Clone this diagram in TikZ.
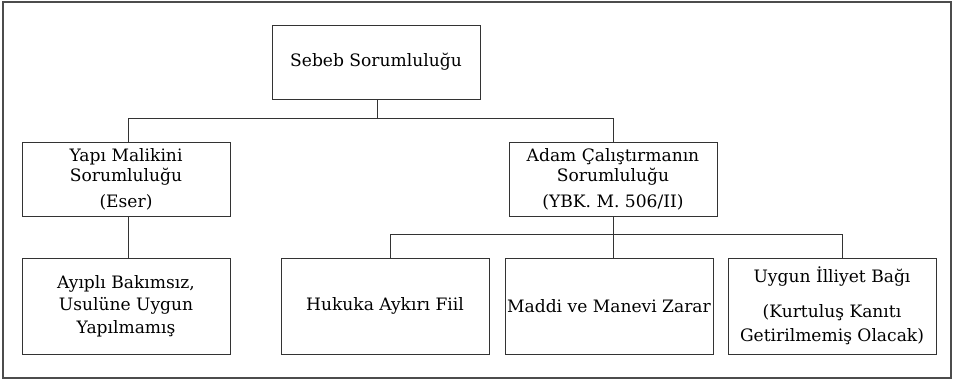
\documentclass[tikz,border=0pt]{standalone}
\usepackage{fontspec}
\setmainfont{DejaVu Serif}
\begin{document}
\begin{tikzpicture}[x=1pt,y=-1pt,
  box/.style={draw=black!80, line width=1pt, rectangle, inner sep=0pt,
    minimum width=208pt, align=center,
    font=\fontsize{17.1}{20}\selectfont, text=black},
  link/.style={draw=black!80, line width=1pt}]
  \useasboundingbox (0,0) rectangle (956,380);
  % outer frame
  \draw[black!70, line width=1.2pt] (3,2) rectangle (951,378);

  % top level
  \node[box, minimum height=74pt] (sebeb) at (376,62) {Sebeb Sorumluluğu};

  % second level
  \node[box, minimum height=74pt] (yapi) at (126,179)
    {Yapı Malikini\\Sorumluluğu\\[6pt](Eser)};
  \node[box, minimum height=74pt] (adam) at (613,179)
    {Adam Çalıştırmanın\\Sorumluluğu\\[6pt](YBK. M. 506/II)};

  % third level
  \node[box, minimum height=96pt] (ayipli) at (126,306)
    {Ayıplı Bakımsız,\\[2.5pt]Usulüne Uygun\\[2.5pt]Yapılmamış};
  \node[box, minimum height=96pt] (hukuka) at (385,306) {Hukuka Aykırı Fiil};
  \node[box, minimum height=96pt] (maddi) at (609,306) {Maddi ve Manevi Zarar};
  \node[box, minimum height=96pt] (uygun) at (832,306)
    {Uygun İlliyet Bağı\\[15pt](Kurtuluş Kanıtı\\[4pt]Getirilmemiş Olacak)};

  % junction rails
  \coordinate (rail1) at (377,118);
  \coordinate (rail2) at (613,234);

  % connectors
  \draw[link] ([xshift=1pt]sebeb.south) -- (rail1);
  \draw[link] ([xshift=2pt]yapi.north) -- ([xshift=2pt]yapi.north |- rail1)
    -- (adam.north |- rail1) -- (adam.north);
  \draw[link] ([xshift=2pt]yapi.south) -- ([xshift=2pt]ayipli.north);
  \draw[link] (adam.south) -- (rail2);
  \draw[link] ([xshift=5pt]hukuka.north) -- ([xshift=5pt]hukuka.north |- rail2)
    -- ([xshift=10pt]uygun.north |- rail2) -- ([xshift=10pt]uygun.north);
  \draw[link] (rail2) -- (maddi.north -| rail2);
\end{tikzpicture}
\end{document}
